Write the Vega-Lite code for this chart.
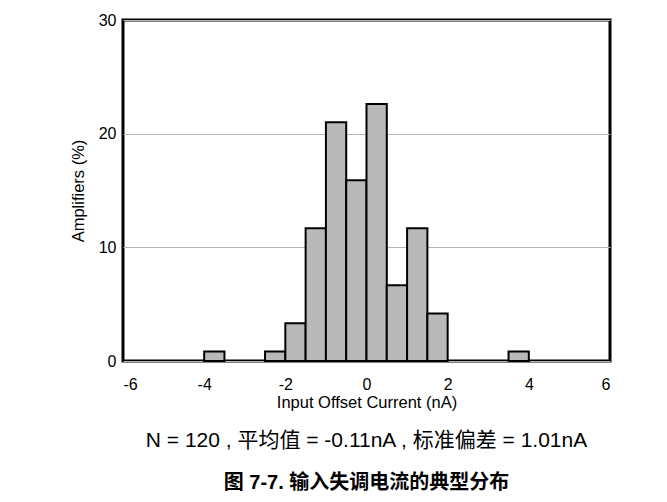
{
  "$schema": "https://vega.github.io/schema/vega-lite/v6.json",
  "width": 487,
  "height": 341,
  "autosize": {"type": "none"},
  "padding": {"left": 123, "top": 20, "right": 57, "bottom": 141},
  "background": "white",
  "data": {
    "values": [
      {"start": -4.0, "end": -3.5, "pct": 0.83},
      {"start": -2.5, "end": -2.0, "pct": 0.83},
      {"start": -2.0, "end": -1.5, "pct": 3.33},
      {"start": -1.5, "end": -1.0, "pct": 11.67},
      {"start": -1.0, "end": -0.5, "pct": 21.0},
      {"start": -0.5, "end": 0.0, "pct": 15.9},
      {"start": 0.0, "end": 0.5, "pct": 22.6},
      {"start": 0.5, "end": 1.0, "pct": 6.67},
      {"start": 1.0, "end": 1.5, "pct": 11.67},
      {"start": 1.5, "end": 2.0, "pct": 4.17},
      {"start": 3.5, "end": 4.0, "pct": 0.83}
    ]
  },
  "mark": {"type": "rect", "fill": "#b9b9b9", "stroke": "black", "strokeWidth": 2},
  "encoding": {
    "x": {
      "field": "start", "type": "quantitative",
      "scale": {"domain": [-6, 6], "nice": false, "zero": false},
      "axis": {"values": [-6, -4, -2, 0, 2, 4, 6], "labelExpr": "toString(datum.value)", "title": "Input Offset Current (nA)", "grid": false, "ticks": false, "domain": false, "labelPadding": 15, "titlePadding": 2}
    },
    "x2": {"field": "end"},
    "y": {
      "field": "pct", "type": "quantitative",
      "scale": {"domain": [0, 30], "nice": false},
      "axis": {"values": [0, 10, 20, 30], "title": "Amplifiers (%)", "grid": true, "gridColor": "#b5b5b5", "gridWidth": 1, "ticks": false, "domain": false, "labelPadding": 7, "titlePadding": 12}
    }
  },
  "title": {
    "text": "N = 120 , 平均值 = -0.11nA , 标准偏差 = 1.01nA",
    "subtitle": "图 7-7. 输入失调电流的典型分布",
    "orient": "bottom",
    "anchor": "middle",
    "offset": 19,
    "font": "Liberation Sans, Noto Sans CJK SC",
    "fontSize": 21,
    "fontWeight": "normal",
    "color": "black",
    "subtitleFont": "Liberation Sans, Noto Sans CJK SC",
    "subtitleFontSize": 20,
    "subtitleFontWeight": "bold",
    "subtitleColor": "black",
    "subtitlePadding": 22
  },
  "config": {
    "view": {"stroke": "black", "strokeWidth": 3},
    "axis": {
      "labelFont": "Liberation Sans",
      "labelFontSize": 16,
      "labelColor": "black",
      "titleFont": "Liberation Sans",
      "titleFontSize": 16.5,
      "titleFontWeight": "normal",
      "titleColor": "black"
    }
  }
}
